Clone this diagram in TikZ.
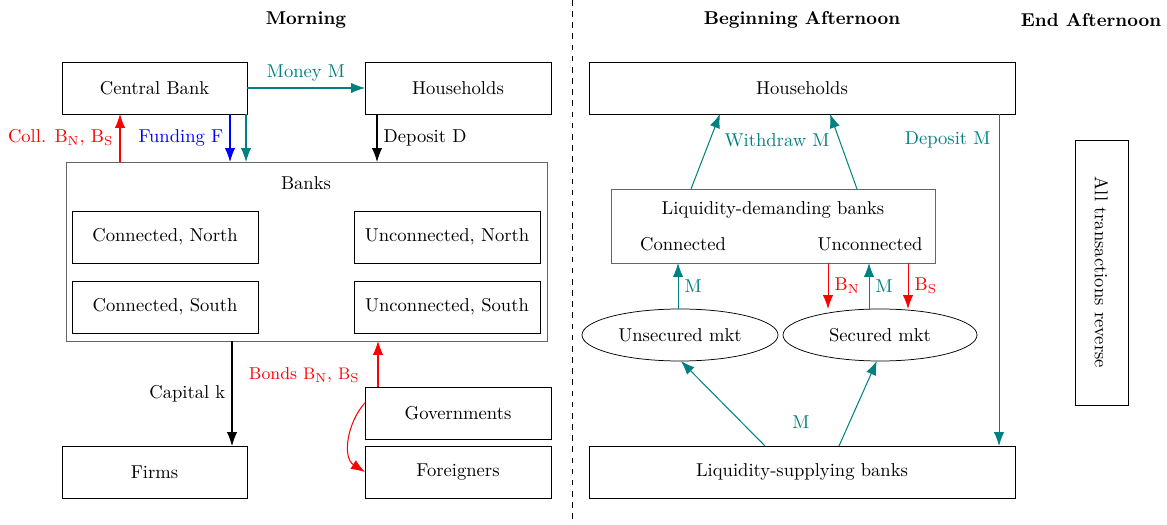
\documentclass[tikz,border=0pt]{standalone}
\usetikzlibrary{arrows.meta,shapes.geometric}
\definecolor{tealc}{rgb}{0,0.5,0.5}
\newcommand\pxu{0.5376pt}
\begin{document}
\begin{tikzpicture}[x=0.5376pt,y=-0.5376pt,
  >={Latex[length=7.5pt,width=5.6pt]},
  box/.style={draw, inner sep=0pt, outer sep=0pt, minimum height={52*\pxu}},
  bigbox/.style={draw=black!60, inner sep=0pt, outer sep=0pt},
  mkt/.style={draw, ellipse, inner sep=0pt, outer sep=0pt, minimum width={196*\pxu}, minimum height={52*\pxu}},
  title/.style={font=\bfseries},
  conn/.style={->, line width=0.55pt}]
\useasboundingbox (0,0) rectangle (1167,525);
% titles
\node[title] (tm) at (306,20) {Morning};
\node[title] (tb) at (802,20) {Beginning Afternoon};
\node[title] (te) at (1091,20) {End Afternoon};
\coordinate (dtop) at (572,0);
\coordinate (dbot) at (572,525);
\draw[dashed] (dtop) -- (dbot);
% morning nodes
\node[box, minimum width={185*\pxu}] (cb) at (154.5,88) {Central Bank};
\node[box, minimum width={186*\pxu}] (hh1) at (458,88) {Households};
\node[bigbox, minimum width={481*\pxu}, minimum height={179*\pxu}] (banks) at (306.5,251.5) {};
\node (bl) at (306,183) {Banks};
\node[box, minimum width={186*\pxu}] (cn) at (165,237) {Connected, North};
\node[box, minimum width={186*\pxu}] (un) at (447,237) {Unconnected, North};
\node[box, minimum width={186*\pxu}] (cs) at (165,307) {Connected, South};
\node[box, minimum width={186*\pxu}] (us2) at (447,307) {Unconnected, South};
\node[box, minimum width={185*\pxu}] (firms) at (154.5,472) {Firms};
\node[box, minimum width={186*\pxu}] (gov) at (458,413) {Governments};
\node[box, minimum width={186*\pxu}] (for) at (458,472) {Foreigners};
% morning connectors
\draw[conn, tealc] (cb) -- node[above, text=tealc] {Money M} (hh1);
\draw[conn, red] (banks.north -| 120,0) -- node[left, text=red] {Coll. $\mathrm{B}_\mathrm{N}$, $\mathrm{B}_\mathrm{S}$} (cb.south -| 120,0);
\draw[conn, blue] (cb.south -| 230,0) -- node[left, text=blue] {Funding F} (banks.north -| 230,0);
\draw[conn, tealc] (cb.south -| 246,0) -- (banks.north -| 246,0);
\draw[conn] (hh1.south -| 377,0) -- node[right] {Deposit D} (banks.north -| 377,0);
\draw[conn] (banks.south -| 232,0) -- node[left] {Capital k} (firms.north -| 232,0);
\draw[conn, red] (gov.north -| 378,0) -- (banks.south -| 378,0);
\node[text=red, anchor=east, font=\fontsize{9.3}{11}\selectfont] (bondl) at (366,375) {Bonds $\mathrm{B}_\mathrm{N}$, $\mathrm{B}_\mathrm{S}$};
\draw[conn, red] ([yshift=5.5pt]gov.west) to[out=228, in=148, looseness=1] (for.west);
% afternoon nodes
\node[box, minimum width={426*\pxu}] (hh2) at (802,88) {Households};
\node[bigbox, minimum width={324*\pxu}, minimum height={74*\pxu}] (ldb) at (773,226) {};
\node (ldbl) at (773,210) {Liquidity-demanding banks};
\node (ldbc) at (683,244) {Connected};
\node (ldbu) at (870,244) {Unconnected};
\node[mkt] (um) at (680,335) {Unsecured mkt};
\node[mkt, minimum width={194*\pxu}] (sm) at (880,335) {Secured mkt};
\node[box, minimum width={426*\pxu}] (lsb) at (802,472) {Liquidity-supplying banks};
\node[draw, inner sep=0pt, rotate=-90, minimum width={265*\pxu}, minimum height={53*\pxu}] (atr) at (1101.5,272.5) {All transactions reverse};
% afternoon connectors
\draw[conn, tealc] (ldb.north -| 691,0) -- (hh2.south -| 720,0);
\draw[conn, tealc] (ldb.north -| 857,0) -- (hh2.south -| 830,0);
\node[text=tealc] (wl) at (777,140) {Withdraw M};
\draw[conn, tealc] (hh2.south -| 999,0) -- (lsb.north -| 999,0);
\node[text=tealc, anchor=east] (dml) at (997,140) {Deposit M};
\draw[conn, tealc] (um.north -| 678,0) -- node[right, text=tealc] {M} (ldb.south -| 678,0);
\draw[conn, red] (ldb.south -| 828,0) -- node[right, text=red] {$\mathrm{B}_\mathrm{N}$} (sm.north -| 828,0);
\draw[conn, tealc] (sm.north -| 869,0) -- node[right, text=tealc] {M} (ldb.south -| 869,0);
\draw[conn, red] (ldb.south -| 908,0) -- node[right, text=red] {$\mathrm{B}_\mathrm{S}$} (sm.north -| 908,0);
\draw[conn, tealc] (lsb.north -| 765,0) -- (um.272);
\draw[conn, tealc] (lsb.north -| 839,0) -- (sm.263);
\node[text=tealc] (ml) at (801,422) {M};
\end{tikzpicture}
\end{document}
